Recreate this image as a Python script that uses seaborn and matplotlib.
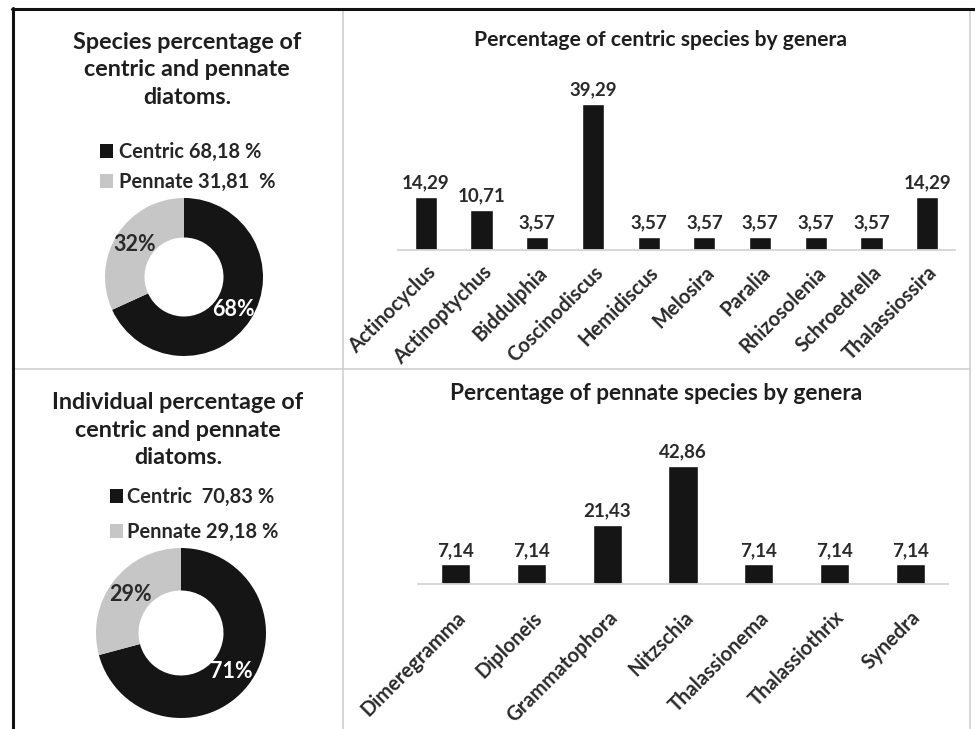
import matplotlib
matplotlib.use('Agg')
import matplotlib.pyplot as plt
from matplotlib.lines import Line2D
import seaborn as sns

# ─── data ────────────────────────────────────────────────────────────────────
centric_genera = ['Actinocyclus', 'Actinoptychus', 'Biddulphia', 'Coscinodiscus', 'Hemidiscus',
                  'Melosira', 'Paralia', 'Rhizosolenia', 'Schroedrella', 'Thalassiossira']
centric_pct = [14.29, 10.71, 3.57, 39.29, 3.57, 3.57, 3.57, 3.57, 3.57, 14.29]

pennate_genera = ['Dimeregramma', 'Diploneis', 'Grammatophora', 'Nitzschia',
                  'Thalassionema', 'Thalassiothrix', 'Synedra']
pennate_pct = [7.14, 7.14, 21.43, 42.86, 7.14, 7.14, 7.14]

species_split = [68.18, 31.81]          # centric, pennate
species_labels = ['Centric 68,18 %', 'Pennate 31,81  %']
individual_split = [70.83, 29.18]
individual_labels = ['Centric  70,83 %', 'Pennate 29,18 %']

DARK = '#151515'
LIGHT = '#c6c6c6'
FRAME = '#d0d0d0'
TEXT = '#1e1e1e'

sns.set_style('white')
plt.rcParams['font.family'] = ['Lato', 'DejaVu Sans']

fig = plt.figure(figsize=(9.75, 7.29), dpi=100)
W, H = 975, 729


def px_axes(x0, y0, x1, y1):
    # axes from pixel box (top-left origin)
    return fig.add_axes([x0 / W, 1 - y1 / H, (x1 - x0) / W, (y1 - y0) / H])


def donut(ax, values):
    wedges, _, autotexts = ax.pie(values, colors=[DARK, LIGHT], startangle=90, counterclock=False,
                                  radius=1, autopct='%.0f%%', pctdistance=0.75,
                                  wedgeprops=dict(width=0.5, linewidth=0),
                                  textprops=dict(fontsize=15.5, fontweight='bold'))
    autotexts[0].set_color('white')
    autotexts[1].set_color('#2a2a2a')
    ax.set_xlim(-1, 1)
    ax.set_ylim(-1, 1)
    return wedges


def bars(ax, genera, pct, width, pad):
    sns.barplot(x=genera, y=pct, color=DARK, saturation=1, width=width, ax=ax)
    ax.bar_label(ax.containers[0], labels=[f'{v:.2f}'.replace('.', ',') for v in pct],
                 padding=4, fontsize=13.5, fontweight='bold', color='#2a2a2a')
    sns.despine(ax=ax, left=True)
    ax.spines['bottom'].set_color('#d4d4d4')
    ax.spines['bottom'].set_linewidth(1.3)
    ax.set_yticks([])
    ax.set_xlabel('')
    ax.set_ylabel('')
    ax.tick_params(axis='x', length=0, pad=pad, labelsize=14.5)
    for lab in ax.get_xticklabels():
        lab.set_rotation(45)
        lab.set_ha('right')
        lab.set_va('top')
        lab.set_rotation_mode('anchor')
        lab.set_fontweight('bold')
        lab.set_color('#2a2a2a')
    ax.patch.set_alpha(0)


# ─── top-left: species donut ─────────────────────────────────────────────────
fig.text(187 / W, 1 - 70 / H, 'Species percentage of\ncentric and pennate\ndiatoms.',
         ha='center', va='center', fontsize=16.8, fontweight='bold', linespacing=1.38, color=TEXT)
ax1 = px_axes(105, 198, 263, 356)
w1 = donut(ax1, species_split)
fig.legend(w1, species_labels, loc='upper left', bbox_to_anchor=(100 / W, 1 - 142 / H),
           frameon=False, handlelength=0.65, handleheight=0.65, handletextpad=0.3,
           labelspacing=0.5, borderpad=0, borderaxespad=0,
           prop=dict(size=14.4, weight='bold'))

# ─── bottom-left: individual donut ───────────────────────────────────────────
fig.text(178 / W, 1 - 430 / H, 'Individual percentage of\ncentric and pennate\ndiatoms.',
         ha='center', va='center', fontsize=16.8, fontweight='bold', linespacing=1.36, color=TEXT)
ax2 = px_axes(96, 548, 266, 718)
w2 = donut(ax2, individual_split)
fig.legend(w2, individual_labels, loc='upper left', bbox_to_anchor=(110 / W, 1 - 487 / H),
           frameon=False, handlelength=0.65, handleheight=0.65, handletextpad=0.2,
           labelspacing=0.75, borderpad=0, borderaxespad=0,
           prop=dict(size=14.4, weight='bold'))

# ─── top-right: centric genera ───────────────────────────────────────────────
ax3 = px_axes(398, 250 - 44 * 3.716, 955, 250)
bars(ax3, centric_genera, centric_pct, 0.4, 9)
ax3.set_ylim(0, 44)
fig.text(660 / W, 1 - 40 / H, 'Percentage of centric species by genera',
         ha='center', va='center', fontsize=15.2, fontweight='bold', color=TEXT)

# ─── bottom-right: pennate genera ────────────────────────────────────────────
ax4 = px_axes(418, 584 - 48 * 2.753, 948, 584)
bars(ax4, pennate_genera, pennate_pct, 0.385, 17)
ax4.set_ylim(0, 48)
fig.text(656 / W, 1 - 393 / H, 'Percentage of pennate species by genera',
         ha='center', va='center', fontsize=16.3, fontweight='bold', color=TEXT)

# ─── panel frame lines ───────────────────────────────────────────────────────
def line(x0, y0, x1, y1, color, lw):
    fig.add_artist(Line2D([x0 / W, x1 / W], [1 - y0 / H, 1 - y1 / H],
                          transform=fig.transFigure, color=color, lw=lw))

line(343, 9, 343, H, FRAME, 1.2)
line(970, 9, 970, H, FRAME, 1.2)
line(13, 369, 970, 369, FRAME, 1.2)
line(12, 9, W, 9, '#111111', 2.2)
line(13, 8, 13, H, '#111111', 2.2)

fig.savefig('out.png', dpi=100)
